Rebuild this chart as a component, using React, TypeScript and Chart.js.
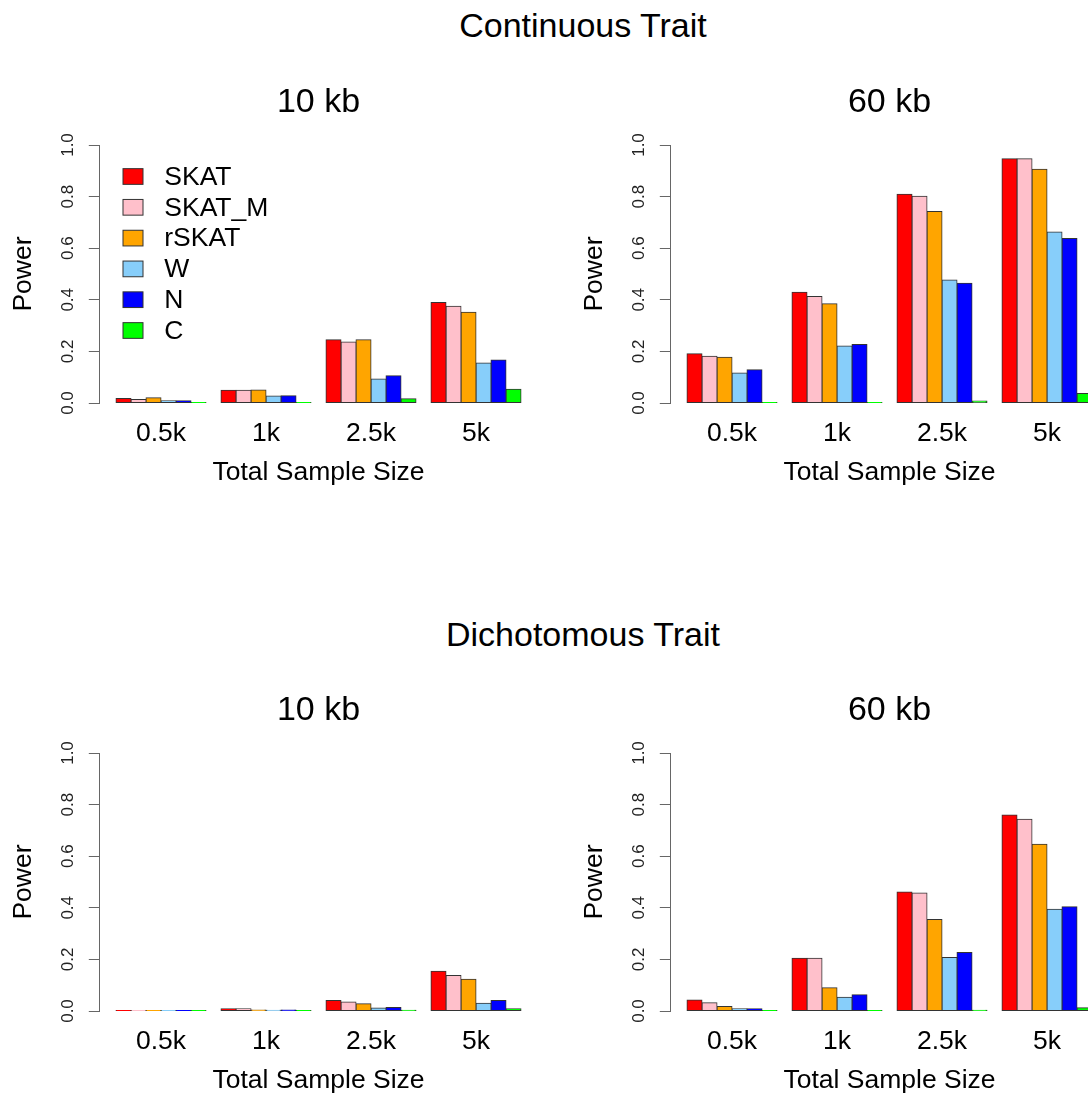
import React, { useEffect, useRef } from 'react';
import { Chart, registerables } from 'chart.js';

Chart.register(...registerables);

const FONT = '"Liberation Sans", Arial, Helvetica, sans-serif';
Chart.defaults.font.family = FONT;

// ---------- data ----------
const categories = ['0.5k', '1k', '2.5k', '5k'];
const methods = ['SKAT', 'SKAT_M', 'rSKAT', 'W', 'N', 'C'];
const methodColors = ['#FF0000', '#FFC0CB', '#FFA500', '#87CEFA', '#0000FF', '#00FF00'];
const yTicks = [0, 0.2, 0.4, 0.6, 0.8, 1.0];
const rowTitles = ['Continuous Trait', 'Dichotomous Trait'];
const panelTitles = ['10 kb', '60 kb'];

// Continuous trait, 10 kb
const cont10_SKAT = [0.017, 0.049, 0.245, 0.390];
const cont10_SKAT_M = [0.014, 0.049, 0.236, 0.375];
const cont10_rSKAT = [0.020, 0.050, 0.245, 0.352];
const cont10_W = [0.009, 0.027, 0.093, 0.155];
const cont10_N = [0.009, 0.028, 0.106, 0.167];
const cont10_C = [0.002, 0.001, 0.016, 0.053];

// Continuous trait, 60 kb
const cont60_SKAT = [0.191, 0.429, 0.809, 0.947];
const cont60_SKAT_M = [0.181, 0.413, 0.801, 0.947];
const cont60_rSKAT = [0.177, 0.385, 0.742, 0.906];
const cont60_W = [0.116, 0.221, 0.477, 0.663];
const cont60_N = [0.129, 0.227, 0.464, 0.638];
const cont60_C = [0.001, 0.001, 0.008, 0.037];

// Dichotomous trait, 10 kb
const dich10_SKAT = [0.001, 0.009, 0.041, 0.154];
const dich10_SKAT_M = [0.001, 0.009, 0.035, 0.138];
const dich10_rSKAT = [0.001, 0.004, 0.028, 0.123];
const dich10_W = [0.001, 0.003, 0.012, 0.030];
const dich10_N = [0.001, 0.004, 0.014, 0.041];
const dich10_C = [0.001, 0.001, 0.003, 0.009];

// Dichotomous trait, 60 kb
const dich60_SKAT = [0.043, 0.204, 0.461, 0.760];
const dich60_SKAT_M = [0.032, 0.204, 0.457, 0.743];
const dich60_rSKAT = [0.017, 0.090, 0.355, 0.646];
const dich60_W = [0.009, 0.053, 0.207, 0.394];
const dich60_N = [0.009, 0.063, 0.227, 0.404];
const dich60_C = [0.001, 0.001, 0.003, 0.013];

const cont10 = [cont10_SKAT, cont10_SKAT_M, cont10_rSKAT, cont10_W, cont10_N, cont10_C];
const cont60 = [cont60_SKAT, cont60_SKAT_M, cont60_rSKAT, cont60_W, cont60_N, cont60_C];
const dich10 = [dich10_SKAT, dich10_SKAT_M, dich10_rSKAT, dich10_W, dich10_N, dich10_C];
const dich60 = [dich60_SKAT, dich60_SKAT_M, dich60_rSKAT, dich60_W, dich60_N, dich60_C];

// ---------- layout ----------
const PANEL_W = 571;
const PANEL_H = 450;

const legendPlugin = {
  id: 'rLegend',
  afterDraw(chart: any) {
    const { ctx, chartArea } = chart;
    ctx.save();
    chart.data.datasets.forEach((ds: any, k: number) => {
      const cy = chartArea.top + 31.5 + 30.8 * k;
      const bx = chartArea.left + 23.2;
      ctx.fillStyle = ds.backgroundColor;
      ctx.fillRect(bx, cy - 7.85, 20, 15.7);
      ctx.strokeStyle = '#333';
      ctx.lineWidth = 1;
      ctx.strokeRect(bx, cy - 7.85, 20, 15.7);
      ctx.fillStyle = '#000';
      ctx.font = `26.5px ${FONT}`;
      ctx.textBaseline = 'middle';
      ctx.textAlign = 'left';
      ctx.fillText(ds.label, chartArea.left + 64.5, cy + 1);
    });
    ctx.restore();
  },
};

function Panel({ title, series, showLegend, left, top }: any) {
  const ref = useRef<HTMLCanvasElement>(null);
  useEffect(() => {
    const n = categories.length;
    const lo = -3 / 7;
    const hi = n - 1 + 3 / 7;
    const pad = 0.04 * (hi - lo);
    const chart = new Chart(ref.current as HTMLCanvasElement, {
      type: 'bar',
      data: {
        datasets: methods.map((m, k) => ({
          label: m,
          data: series[k].map((v: number, i: number) => ({ x: i, y: v })),
          backgroundColor: methodColors[k],
          borderColor: '#333',
          borderWidth: 1,
          borderSkipped: false,
          inflateAmount: 0.5,
          categoryPercentage: 6 / 7,
          barPercentage: 1,
        })),
      } as any,
      options: {
        responsive: false,
        animation: false,
        events: [],
        layout: { padding: { left: 0, right: 33.8, top: 0, bottom: 0 } },
        plugins: {
          legend: { display: false },
          tooltip: { enabled: false },
          title: {
            display: true,
            text: title,
            fullSize: false,
            color: '#000',
            font: { size: 34, weight: 'normal', family: FONT, lineHeight: 1.2 },
            padding: { top: 27.1, bottom: 22.1 },
          },
        },
        scales: {
          x: {
            type: 'linear',
            offset: false,
            min: lo - pad,
            max: hi + pad,
            afterBuildTicks: (s: any) => {
              s.ticks = categories.map((_, i) => ({ value: i }));
            },
            afterFit: (s: any) => {
              s.height = 102;
            },
            grid: { display: false, drawTicks: false, offset: false },
            border: { display: false },
            ticks: {
              callback: (v: any) => categories[v] ?? '',
              color: '#000',
              font: { size: 26.5, family: FONT, lineHeight: 1.2 },
              padding: 15,
              autoSkip: false,
              maxRotation: 0,
              minRotation: 0,
            },
            title: {
              display: true,
              text: 'Total Sample Size',
              color: '#000',
              font: { size: 26.5, family: FONT, lineHeight: 1.2 },
              padding: { top: 0, bottom: 16.3 },
            },
          },
          y: {
            type: 'linear',
            min: 0,
            max: 1,
            afterBuildTicks: (s: any) => {
              s.ticks = yTicks.map((v) => ({ value: v }));
            },
            afterFit: (s: any) => {
              s.width = 99.8;
            },
            grid: {
              display: true,
              drawOnChartArea: false,
              drawTicks: true,
              tickLength: 11,
              color: '#666',
              lineWidth: 1,
            },
            border: { display: true, color: '#666', width: 1 },
            ticks: {
              callback: (v: any) => Number(v).toFixed(1),
              color: '#222',
              font: { size: 17, family: FONT },
              minRotation: 90,
              maxRotation: 90,
              crossAlign: 'center',
              padding: 8.7,
            },
            title: {
              display: true,
              text: 'Power',
              color: '#000',
              font: { size: 26.5, family: FONT, lineHeight: 1.2 },
              padding: { top: 8, bottom: 0 },
            },
          },
        },
      } as any,
      plugins: showLegend ? [legendPlugin] : [],
    });
    return () => chart.destroy();
  }, []);
  return (
    <div style={{ position: 'absolute', left, top, width: PANEL_W, height: PANEL_H }}>
      <canvas ref={ref} width={PANEL_W} height={PANEL_H} style={{ display: 'block' }} />
    </div>
  );
}

const rowTitleStyle = (top: number): React.CSSProperties => ({
  position: 'absolute',
  left: 583,
  top,
  transform: 'translateX(-50%)',
  whiteSpace: 'nowrap',
  fontFamily: FONT,
  fontSize: 34,
  lineHeight: '34px',
  color: '#000',
});

export default function App() {
  return (
    <div
      style={{
        position: 'absolute',
        left: 0,
        top: 0,
        width: 1088,
        height: 1095,
        overflow: 'hidden',
        background: '#fff',
      }}
    >
      <div style={rowTitleStyle(8.4)}>{rowTitles[0]}</div>
      <div style={rowTitleStyle(617)}>{rowTitles[1]}</div>
      <Panel title={panelTitles[0]} series={cont10} showLegend={true} left={0} top={55} />
      <Panel title={panelTitles[1]} series={cont60} showLegend={false} left={PANEL_W} top={55} />
      <Panel title={panelTitles[0]} series={dich10} showLegend={false} left={0} top={663} />
      <Panel title={panelTitles[1]} series={dich60} showLegend={false} left={PANEL_W} top={663} />
    </div>
  );
}
